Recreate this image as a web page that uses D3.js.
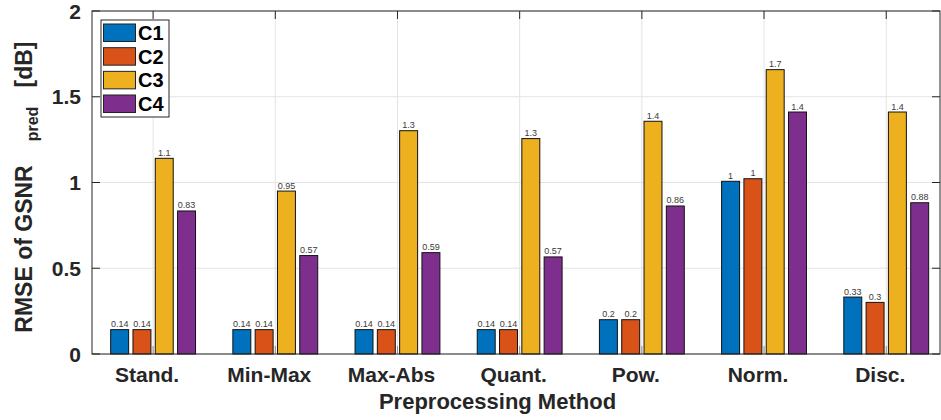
<!DOCTYPE html>
<html>
<head>
<meta charset="utf-8">
<script src="https://cdn.jsdelivr.net/npm/d3@7"></script>
<style>
  html, body { margin: 0; padding: 0; background: #fff; }
  svg { display: block; font-family: "Liberation Sans", Arial, Helvetica, sans-serif; }
</style>
</head>
<body>
<svg id="chart" width="941" height="420"></svg>
<script>
// ---- data ----
const categories = ["Stand.", "Min-Max", "Max-Abs", "Quant.", "Pow.", "Norm.", "Disc."];
const seriesNames = ["C1", "C2", "C3", "C4"];
const c1 = [0.142, 0.142, 0.142, 0.142, 0.200, 1.007, 0.332];
const c2 = [0.142, 0.142, 0.142, 0.142, 0.200, 1.022, 0.301];
const c3 = [1.141, 0.950, 1.302, 1.256, 1.357, 1.658, 1.411];
const c4 = [0.834, 0.574, 0.591, 0.566, 0.863, 1.411, 0.882];
const yTicks = [0, 0.5, 1, 1.5, 2];
const colors = ["#0072BD", "#D95319", "#EDB120", "#7E2F8E"];
const series = [c1, c2, c3, c4];

// ---- layout ----
const svg = d3.select("#chart");
const L = 92, R = 940, T = 11, B = 354;
const x = d3.scaleLinear().domain([0.5, 7.44]).range([L, R]);
const y = d3.scaleLinear().domain([0, 2]).range([B, T]);
const step = 0.1825, barW = 0.147;
const axisColor = "#262626";

// grid
const g = svg.append("g");
g.selectAll("line.hg").data(yTicks).join("line")
  .attr("x1", L).attr("x2", R)
  .attr("y1", d => y(d)).attr("y2", d => y(d))
  .attr("stroke", "#e3e3e3").attr("stroke-width", 1);
g.selectAll("line.vg").data(categories).join("line")
  .attr("x1", (d, i) => x(i + 1)).attr("x2", (d, i) => x(i + 1))
  .attr("y1", T).attr("y2", B)
  .attr("stroke", "#e3e3e3").attr("stroke-width", 1);

// ticks (inside)
const tk = svg.append("g").attr("stroke", axisColor).attr("stroke-width", 1);
yTicks.forEach(v => {
  tk.append("line").attr("x1", L).attr("x2", L + 8).attr("y1", y(v)).attr("y2", y(v));
  tk.append("line").attr("x1", R - 8).attr("x2", R).attr("y1", y(v)).attr("y2", y(v));
});
categories.forEach((c, i) => {
  tk.append("line").attr("x1", x(i + 1)).attr("x2", x(i + 1)).attr("y1", B).attr("y2", B - 8).attr("stroke", "#8a8a8a");
  tk.append("line").attr("x1", x(i + 1)).attr("x2", x(i + 1)).attr("y1", T).attr("y2", T + 8);
});

// bars
const fmt = d3.format(".2~g");
series.forEach((vals, s) => {
  const off = (s - 1.5) * step;
  const bg = svg.append("g");
  bg.selectAll("rect").data(vals).join("rect")
    .attr("x", (d, i) => x(i + 1 + off - barW / 2))
    .attr("width", x(barW) - x(0))
    .attr("y", d => y(d))
    .attr("height", d => y(0) - y(d))
    .attr("fill", colors[s])
    .attr("stroke", "#111").attr("stroke-width", 1);
  bg.selectAll("text").data(vals).join("text")
    .attr("x", (d, i) => x(i + 1 + off))
    .attr("y", d => y(d) - 2.5)
    .attr("text-anchor", "middle")
    .attr("font-size", "9px")
    .attr("fill", "#3a3a3a")
    .text(d => fmt(d));
});

// axes box
svg.append("rect").attr("x", L).attr("y", T).attr("width", R - L).attr("height", B - T)
  .attr("fill", "none").attr("stroke", axisColor).attr("stroke-width", 1);

// y tick labels
svg.append("g").selectAll("text").data(yTicks).join("text")
  .attr("x", 81).attr("y", d => y(d))
  .attr("dy", "0.36em")
  .attr("text-anchor", "end")
  .attr("font-size", "21px").attr("font-weight", "bold")
  .attr("fill", axisColor)
  .text(d => d);

// x tick labels
svg.append("g").selectAll("text").data(categories).join("text")
  .attr("x", (d, i) => x(i + 1) - 6).attr("y", 381.5)
  .attr("text-anchor", "middle")
  .attr("font-size", "21px").attr("font-weight", "bold")
  .attr("fill", axisColor)
  .text(d => d);

// x axis label
svg.append("text").attr("x", 497.5).attr("y", 408.5)
  .attr("text-anchor", "middle")
  .attr("font-size", "22px").attr("font-weight", "bold")
  .attr("fill", axisColor)
  .text("Preprocessing Method");

// y axis label
const ylab = [
  {t: "RMSE of GSNR", x: 32, y: 249, size: 23},
  {t: "pred", x: 38, y: 124, size: 16},
  {t: "[dB]", x: 32, y: 64.5, size: 23}
];
svg.append("g").selectAll("text").data(ylab).join("text")
  .attr("transform", d => `translate(${d.x},${d.y}) rotate(-90)`)
  .attr("text-anchor", "middle")
  .attr("font-size", d => d.size + "px").attr("font-weight", "bold")
  .attr("fill", axisColor)
  .text(d => d.t);

// legend
const lg = svg.append("g");
lg.append("rect").attr("x", 101).attr("y", 20).attr("width", 68).attr("height", 97)
  .attr("fill", "#fff").attr("stroke", axisColor).attr("stroke-width", 1);
seriesNames.forEach((n, i) => {
  const yy = 24 + i * 23.67;
  lg.append("rect").attr("x", 103.5).attr("y", yy).attr("width", 32).attr("height", 17.5)
    .attr("fill", colors[i]).attr("stroke", "#222").attr("stroke-width", 1);
  lg.append("text").attr("x", 138).attr("y", yy + 8.75).attr("dy", "0.36em")
    .attr("font-size", "20px").attr("font-weight", "bold").attr("fill", "#000")
    .text(n);
});
</script>
</body>
</html>
